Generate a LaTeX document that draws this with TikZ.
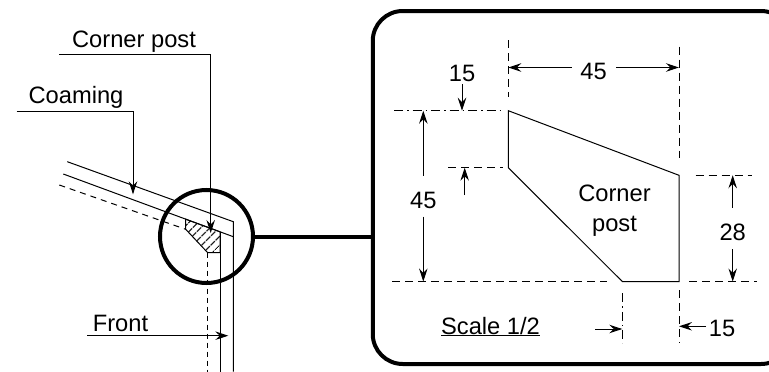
\documentclass[tikz,border=0pt]{standalone}
\usepackage{fontspec}
\setmainfont{Liberation Sans}
\usetikzlibrary{arrows.meta,patterns.meta}
\tikzset{
  line/.style={line width=1pt},
  dim/.style={line width=1pt,-{Stealth[length=13pt,width=8.5pt,inset=4.5pt]}},
  cut/.style={line width=1pt,dash pattern=on 8pt off 5pt},
  chain/.style={line width=1pt,dash pattern=on 9pt off 4pt on 1.5pt off 4pt},
  thick line/.style={line width=4pt},
  label/.style={font=\fontsize{23.7}{29.3}\selectfont,inner sep=0pt,outer sep=0pt,anchor=base}
}
\begin{document}
\begin{tikzpicture}[x=1pt,y=-1pt]
  \useasboundingbox (0,0) rectangle (769,372);
  \clip (0,0) rectangle (769,372);
  % plan of the coaming
  \path
    (67.3,161.7) coordinate (c1)
    (233.3,221.7) coordinate (c2)
    (233.3,371.7) coordinate (c3)
    (63.3,174) coordinate (s1)
    (233.3,236.7) coordinate (s2)
    (220,231.8) coordinate (i1)
    (220,371.7) coordinate (i2)
    (59.3,185) coordinate (h1)
    (185.7,219.2) coordinate (p1)
    (185.7,229.3) coordinate (p2)
    (207.7,252.7) coordinate (p3)
    (220,252.7) coordinate (p4)
    (207.7,371.7) coordinate (h2);
  \draw[line] (c1) -- (c2) -- (c3);
  \draw[line] (s1) -- (s2);
  \draw[line] (i1) -- (i2);
  \draw[line,dash pattern=on 6pt off 5pt] (h1) -- (p2);
  \draw[line,pattern={Lines[angle=45,distance=6.5pt,line width=1.3pt]}]
    (p1) -- (i1) -- (p4) -- (p3) -- (p2) -- cycle;
  \draw[line,dash pattern=on 5pt off 4pt] (p3) -- (h2);
  % leaders
  \node[label] (tpost) at (134,47.3) {Corner post};
  \node[label] (tcoam) at (76,103.3) {Coaming};
  \node[label] (tfront) at (120.5,331.7) {Front};
  \path
    (59.3,54) coordinate (l1)
    (210.7,54) coordinate (l2)
    (210.7,233) coordinate (l3)
    (16.7,111.7) coordinate (l4)
    (133,111.7) coordinate (l5)
    (133,194.3) coordinate (l6)
    (87,335.7) coordinate (l7)
    (228.3,335.7) coordinate (l8);
  \draw[dim] (l1) -- (l2) -- (l3);
  \draw[dim] (l4) -- (l5) -- (l6);
  \draw[dim] (l7) -- (l8);
  % circle and detail box
  \node[draw,circle,thick line,minimum size=93pt,inner sep=0pt,outer sep=0pt] (lens) at (206.5,236.5) {};
  \node[draw,thick line,rounded corners=30pt,minimum width=418.3pt,minimum height=353pt,inner sep=0pt,outer sep=0pt] (box) at (581.9,187.5) {};
  \draw[thick line] (lens.east) -- (lens.east -| box.west);
  % corner post, scale 1/2
  \path
    (508.3,110.7) coordinate (A)
    (508.3,167.7) coordinate (B)
    (622.3,281.5) coordinate (C)
    (679,281.5) coordinate (D)
    (679,175.3) coordinate (E);
  \draw[line] (A) -- (B) -- (C) -- (D) -- (E) -- cycle;
  \node[label] (tname) at (614.5,201.7) {Corner};
  \node[label] (tname2) at (614.5,231) {post};
  % witness lines
  \path
    (508.3,40) coordinate (w1)   (508.3,96.7) coordinate (w2)
    (679,46.7) coordinate (w3)   (679,158.3) coordinate (w4)
    (394,110.7) coordinate (w5)  (503.3,110.7) coordinate (w6)
    (448.3,167.7) coordinate (w7) (503.3,167.7) coordinate (w8)
    (392.3,281.5) coordinate (w9) (607.3,281.5) coordinate (w10)
    (695.7,175.3) coordinate (w11) (752.3,175.3) coordinate (w12)
    (689,281.5) coordinate (w13) (756.7,281.5) coordinate (w14)
    (622.3,293.3) coordinate (w15) (622.3,343.3) coordinate (w16)
    (679,290) coordinate (w17)   (679,343.3) coordinate (w18);
  \draw[cut] (w1) -- (w2);
  \draw[cut] (w3) -- (w4);
  \draw[chain] (w5) -- (w6);
  \draw[cut] (w7) -- (w8);
  \draw[cut] (w9) -- (w10);
  \draw[cut] (w11) -- (w12);
  \draw[cut] (w13) -- (w14);
  \draw[chain] (w15) -- (w16);
  \draw[cut] (w17) -- (w18);
  % dimensions
  \node[label] (d45t) at (593.5,79) {45};
  \node[label] (d15t) at (462,81) {15};
  \node[label] (d45l) at (423.3,208) {45};
  \node[label] (d28) at (732.7,240) {28};
  \node[label] (d15b) at (722,336) {15};
  \node[label] (tscale) at (490.5,334) {\underline{Scale 1/2}};
  \path
    (571.7,67.5) coordinate (a1)  (508.3,67.5) coordinate (a2)
    (616,67.5) coordinate (a3)    (679,67.5) coordinate (a4)
    (462,84.3) coordinate (a5)    (462,110.7) coordinate (a6)
    (423.3,175.7) coordinate (a7) (423.3,110.7) coordinate (a8)
    (423.3,216.7) coordinate (a9) (423.3,281.5) coordinate (a10)
    (464.7,195) coordinate (a11)  (464.7,167.7) coordinate (a12)
    (732.7,207.7) coordinate (a13) (732.7,175.3) coordinate (a14)
    (732.7,249.3) coordinate (a15) (732.7,281.5) coordinate (a16)
    (595,329) coordinate (a17)    (622.3,329) coordinate (a18)
    (706,326.3) coordinate (a19)  (679,326.3) coordinate (a20);
  \foreach \from/\to in {a1/a2,a3/a4,a5/a6,a7/a8,a9/a10,a11/a12,a13/a14,a15/a16,a17/a18,a19/a20}
    \draw[dim] (\from) -- (\to);
\end{tikzpicture}
\end{document}
